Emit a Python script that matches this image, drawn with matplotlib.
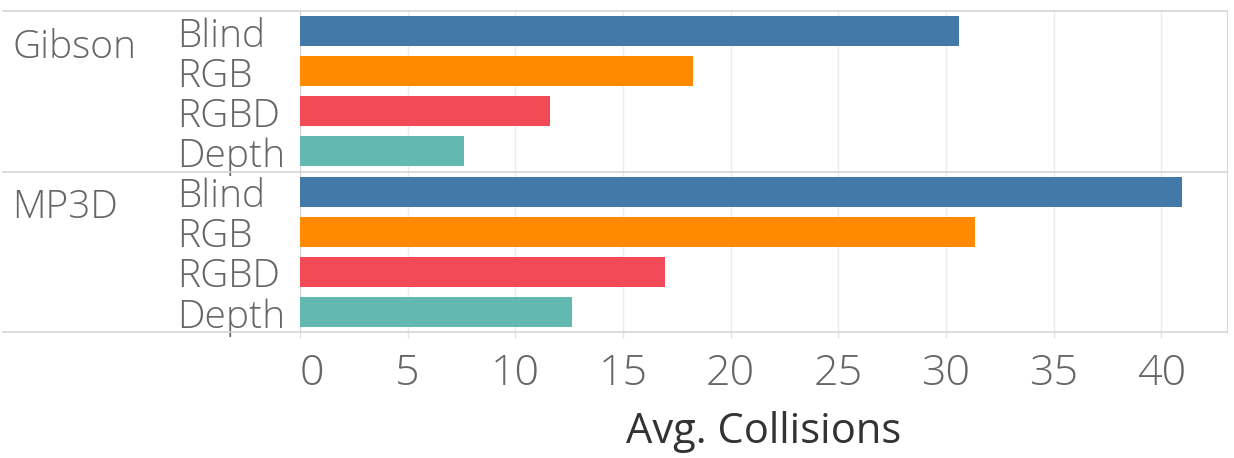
import matplotlib
matplotlib.use("Agg")
import matplotlib.pyplot as plt
from matplotlib.lines import Line2D
import matplotlib.transforms as mtransforms

groups = ["Gibson", "MP3D"]
modalities = ["Blind", "RGB", "RGBD", "Depth"]
gibson_vals = [30.62, 18.24, 11.63, 7.63]
mp3d_vals = [40.98, 31.35, 16.94, 12.63]
colors = ["#4279a9", "#ff8a00", "#f24a56", "#61b9b1"]
xticks = [0, 5, 10, 15, 20, 25, 30, 35, 40]
xlabel = "Avg. Collisions"

W, H = 1234, 458
fig = plt.figure(figsize=(W / 100, H / 100), dpi=100)
ax_l, ax_r, ax_t, ax_b = 300, 1227, 11, 332
ax = fig.add_axes([ax_l / W, 1 - ax_b / H, (ax_r - ax_l) / W, (ax_b - ax_t) / H])

FONT = "Open Sans"
TXT = "#666666"

all_vals = gibson_vals + mp3d_vals
ys = list(range(len(all_vals)))
bar_colors = colors * len(groups)
ax.barh(ys, all_vals, height=0.75, color=bar_colors, zorder=3)
ax.set_ylim(len(all_vals) - 0.5, -0.5)
ax.set_xlim(0, 43.05)

ax.set_yticks([])
ax.set_xticks(xticks)
labels = ax.set_xticklabels([str(t) for t in xticks], fontfamily=FONT,
                            fontsize=31, color=TXT, fontweight="light")
labels[0].set_horizontalalignment("left")
ax.tick_params(axis="x", length=4, color="#e4e4e4", width=1, pad=11)
ax.grid(axis="x", color="#ececec", linewidth=1, zorder=0)

for side in ["top", "bottom"]:
    ax.spines[side].set_visible(False)
ax.spines["left"].set_color("#d6d6d6")
ax.spines["right"].set_color("#d6d6d6")

# horizontal rules spanning the label area and plot
def hline(py):
    fig.add_artist(Line2D([3 / W, ax_r / W], [1 - py / H, 1 - py / H],
                          color="#d6d6d6", linewidth=1.2, transform=fig.transFigure))
hline(ax_t)
hline(ax_b)
hline((ax_t + ax_b) / 2)

blend = mtransforms.blended_transform_factory(fig.transFigure, ax.transData)
for gi, g in enumerate(groups):
    ax.text(12 / W, gi * len(modalities) + 0.66, g, transform=blend, ha="left",
            va="baseline", fontfamily=FONT, fontsize=28, color=TXT,
            fontweight="light", clip_on=False)
    for mi, m in enumerate(modalities):
        ax.text(177 / W, gi * len(modalities) + mi + 0.39, m, transform=blend,
                ha="left", va="baseline", fontfamily=FONT, fontsize=28, color=TXT,
                fontweight="light", clip_on=False)

fig.text((ax_l + ax_r) / 2 / W, 1 - 443 / H, xlabel, ha="center", va="baseline",
         fontfamily=FONT, fontsize=30, color="#333333", fontweight="medium")

fig.savefig("out.png", dpi=100, facecolor="white")
